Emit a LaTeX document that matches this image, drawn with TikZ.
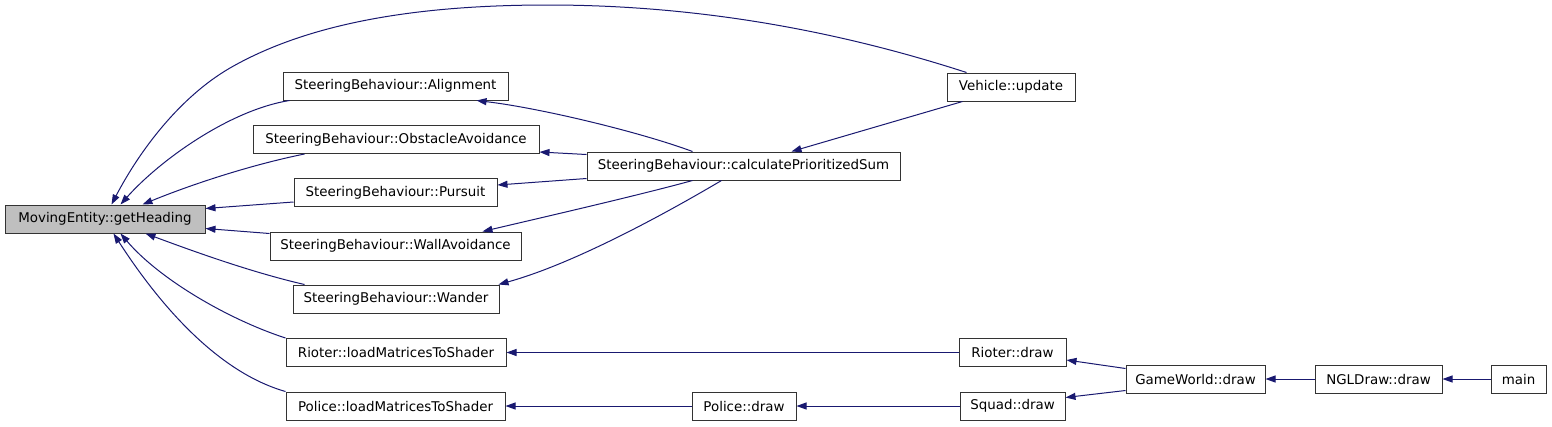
\documentclass[tikz,border=0pt]{standalone}
\usepackage{fontspec}
\setmainfont{DejaVu Sans}
\usetikzlibrary{arrows.meta}
\definecolor{edgec}{HTML}{191970}
\definecolor{boxfill}{HTML}{BFBFBF}
\begin{document}
\begin{tikzpicture}[x=1pt,y=-1pt,
  fn/.style={draw=black!80, line width=1pt, rectangle, inner sep=0pt,
    minimum height=28pt, font=\fontsize{13.4}{16}\selectfont},
  edge/.style={draw=edgec, line width=1pt, -{Triangle[length=10pt,width=7pt]}}]
\useasboundingbox (0,0) rectangle (1552,426);
% nodes
\node[fn, fill=boxfill, minimum width=200pt] (gh) at (105,219) {MovingEntity::getHeading};
\node[fn, minimum width=225pt] (al) at (395.5,86) {SteeringBehaviour::Alignment};
\node[fn, minimum width=286pt] (ob) at (396,139.5) {SteeringBehaviour::ObstacleAvoidance};
\node[fn, minimum width=203pt] (pu) at (395.5,192.5) {SteeringBehaviour::Pursuit};
\node[fn, minimum width=251pt] (wa) at (395.5,246) {SteeringBehaviour::WallAvoidance};
\node[fn, minimum width=206pt] (wn) at (396,299) {SteeringBehaviour::Wander};
\node[fn, minimum width=220pt] (rl) at (396,352.5) {Rioter::loadMatricesToShader};
\node[fn, minimum width=219pt] (pl) at (395.5,406) {Police::loadMatricesToShader};
\node[fn, minimum width=313pt] (calc) at (743.5,166) {SteeringBehaviour::calculatePrioritizedSum};
\node[fn, minimum width=128pt] (veh) at (1011,87) {Vehicle::update};
\node[fn, minimum width=107pt] (rd) at (1012.5,352.5) {Rioter::draw};
\node[fn, minimum width=104pt] (pd) at (744,406) {Police::draw};
\node[fn, minimum width=105pt] (sd) at (1012.5,406) {Squad::draw};
\node[fn, minimum width=139pt] (gw) at (1195.5,379) {GameWorld::draw};
\node[fn, minimum width=127pt] (ngl) at (1378.5,379) {NGLDraw::draw};
\node[fn, minimum width=55pt] (mn) at (1518.5,379) {main};
% edges into getHeading
\draw[edge] ([xshift=20pt]veh.north west) .. controls (820,25) and (680,5) .. (548,5)
  .. controls (420,5) and (310,22) .. (230,68)
  .. controls (180,97) and (140,150) .. ([xshift=107pt]gh.north west);
\draw[edge] ([xshift=7pt]al.south west) .. controls (230,110) and (160,160) .. ([xshift=116pt]gh.north west);
\draw[edge] ([xshift=52pt]ob.south west) .. controls (250,165) and (190,185) .. ([xshift=138pt]gh.north west);
\draw[edge] ([yshift=-24pt]pu.north west) -- ([yshift=-4pt]gh.north east);
\draw[edge] ([yshift=-2pt]wa.north west) -- ([yshift=-24pt]gh.north east);
\draw[edge] ([xshift=12pt]wn.north west) .. controls (250,272) and (190,250) .. ([xshift=141pt]gh.south west);
\draw[edge] (rl.north west) .. controls (230,320) and (160,280) .. ([xshift=116pt]gh.south west);
\draw[edge] (pl.north west) .. controls (210,370) and (150,290) .. ([xshift=109pt]gh.south west);
% edges from calculatePrioritizedSum
\draw[edge] ([xshift=106pt]calc.north west) .. controls (640,132) and (540,108) .. ([xshift=194pt]al.south west);
\draw[edge] ([yshift=-3pt]calc.north west) -- ([yshift=2pt]ob.south east);
\draw[edge] ([yshift=2pt]calc.south west) -- ([yshift=-7pt]pu.north east);
\draw[edge] ([xshift=106pt]calc.south west) .. controls (640,195) and (540,218) .. ([xshift=213pt]wa.north west);
\draw[edge] ([xshift=135pt]calc.south west) .. controls (680,205) and (580,262) .. ([xshift=-1pt]wn.north east);
\draw[edge] ([xshift=16pt]veh.south west) -- ([xshift=205pt]calc.north west);
% bottom chain
\draw[edge] (rd.west) -- (rl.east);
\draw[edge] (pd.west) -- (pl.east);
\draw[edge] (sd.west) -- (pd.east);
\draw[edge] ([yshift=-4pt]gw.north west) -- ([yshift=-22pt]rd.north east);
\draw[edge] ([yshift=3pt]gw.south west) -- ([yshift=-6pt]sd.north east);
\draw[edge] (ngl.west) -- (gw.east);
\draw[edge] (mn.west) -- (ngl.east);
\end{tikzpicture}
\end{document}
